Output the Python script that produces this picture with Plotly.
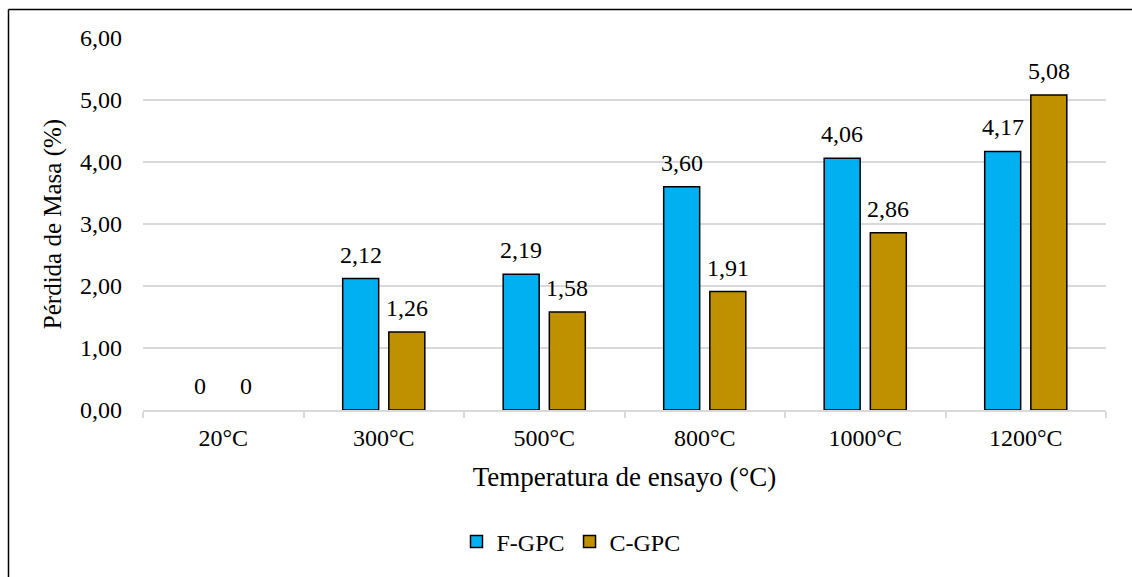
import plotly.graph_objects as go

# Mass loss of the two concretes at each test temperature
temperaturas = ["20°C", "300°C", "500°C", "800°C", "1000°C", "1200°C"]
f_gpc = [0.00, 2.12, 2.19, 3.60, 4.06, 4.17]
c_gpc = [0.00, 1.26, 1.58, 1.91, 2.86, 5.08]
y_ticks = [0, 1, 2, 3, 4, 5, 6]

FONT = "Liberation Serif"
AZUL = "#00B0F0"
ORO = "#BF9000"
GRIS = "#D9D9D9"

W, H = 1132, 577
M_L, M_R, M_T, M_B = 143, 26, 38, 167


def coma(v, dec=2):
    return f"{v:.{dec}f}".replace(".", ",")


def etiqueta(v):
    return "0" if v == 0 else coma(v)


def alturas(serie):
    # zero losses get no bar (avoids a stray outline on the baseline)
    return [v if v > 0 else None for v in serie]


fig = go.Figure()
fig.add_trace(go.Bar(name="F-GPC", x=temperaturas, y=alturas(f_gpc),
                     marker=dict(color=AZUL, line=dict(color="black", width=1.5))))
fig.add_trace(go.Bar(name="C-GPC", x=temperaturas, y=alturas(c_gpc),
                     marker=dict(color=ORO, line=dict(color="black", width=1.5))))

# value labels above each bar
anots = []
for serie, shift in ((f_gpc, -23), (c_gpc, 23)):
    for cat, v in zip(temperaturas, serie):
        anots.append(dict(x=cat, y=v, xref="x", yref="y", text=etiqueta(v),
                          showarrow=False, xshift=shift, yshift=24,
                          yanchor="middle", font=dict(family=FONT, size=24, color="black")))

# chart-area frame (only its top and left edges fall inside the page)
pw = W - M_L - M_R
ph = H - M_T - M_B
fx0 = (8.5 - M_L) / pw
fy1 = (H - M_B - 9.5) / ph
shapes = [
    dict(type="line", xref="paper", yref="paper", x0=fx0, x1=fx0, y0=fy1, y1=-0.5,
         line=dict(color="black", width=1.5)),
    dict(type="line", xref="paper", yref="paper", x0=fx0, x1=1.1, y0=fy1, y1=fy1,
         line=dict(color="black", width=1.5)),
]

fig.update_layout(
    width=W, height=H,
    margin=dict(l=M_L, r=M_R, t=M_T, b=M_B),
    paper_bgcolor="white", plot_bgcolor="white",
    barmode="group", bargap=0.425, bargroupgap=0.22,
    annotations=anots, shapes=shapes,
    showlegend=True,
    legend=dict(orientation="h", x=(571 - M_L) / pw, xanchor="center",
                y=(H - M_B - 542) / ph, yanchor="middle",
                font=dict(family=FONT, size=24, color="black"), itemwidth=30),
    xaxis=dict(showline=True, linecolor=GRIS, linewidth=1.5,
               ticks="outside", tickson="boundaries", ticklen=6, tickcolor=GRIS,
               tickwidth=1.5, showgrid=False, ticklabelstandoff=5,
               tickfont=dict(family=FONT, size=24, color="black"),
               title=dict(text="Temperatura de ensayo (°C)",
                          font=dict(family=FONT, size=27, color="black"), standoff=18)),
    yaxis=dict(range=[0, 6], tickvals=y_ticks, ticktext=[coma(t) for t in y_ticks],
               showgrid=True, gridcolor=GRIS, gridwidth=1.5, zeroline=False,
               showline=False, ticks="", ticklabelstandoff=20,
               tickfont=dict(family=FONT, size=24, color="black"),
               title=dict(text="Pérdida de Masa (%)",
                          font=dict(family=FONT, size=25, color="black"), standoff=11)),
)

fig.write_html("out.html")
